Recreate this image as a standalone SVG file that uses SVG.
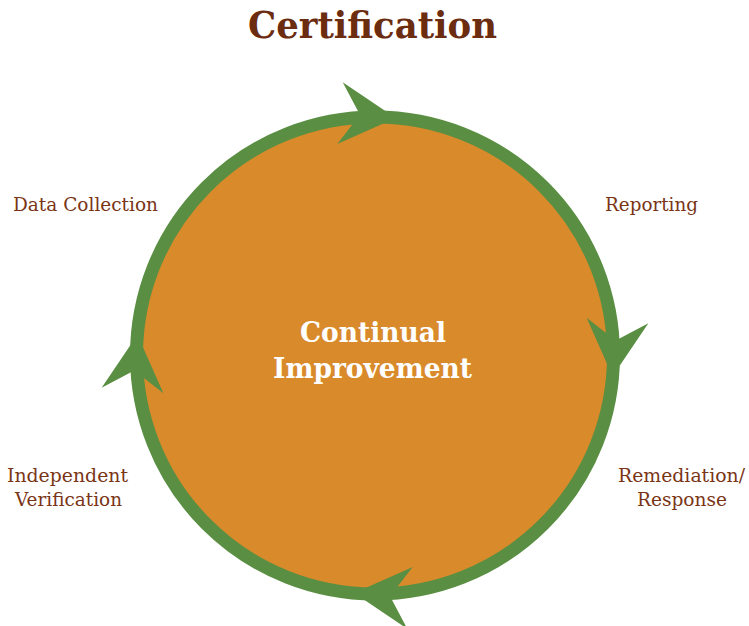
<svg xmlns="http://www.w3.org/2000/svg" width="749" height="626" viewBox="0 0 749 626">
<style>
.lbl{font-family:"DejaVu Serif","Liberation Serif",serif;font-size:19px;fill:#7A3516;text-anchor:middle}
.ttl{font-family:"DejaVu Serif","Liberation Serif",serif;font-size:37px;font-weight:bold;fill:#6B2C0F;text-anchor:middle}
.ctr{font-family:"DejaVu Serif","Liberation Serif",serif;font-size:28px;font-weight:bold;fill:#FFFFFF;text-anchor:middle}
.arr{fill:#5A8F43}
</style>
<defs>
<polygon id="head" points="0,0 -56,-31 -36,0 -56,31"/>
</defs>
<rect width="749" height="626" fill="#FFFFFF"/>
<g id="title"><text class="ttl" x="372.5" y="38" textLength="249" lengthAdjust="spacingAndGlyphs">Certification</text></g>
<g id="cycle">
<circle cx="375" cy="355.5" r="238.5" fill="#D98A2B" stroke="#5A8F43" stroke-width="13"/>
</g>
<g id="connectors" class="arr">
<use href="#head" transform="rotate(5 375 355.5) translate(375,117) rotate(0)"/>
<use href="#head" transform="rotate(5 375 355.5) translate(613.5,355.5) rotate(90)"/>
<use href="#head" transform="rotate(5 375 355.5) translate(375,594) rotate(180)"/>
<use href="#head" transform="rotate(5 375 355.5) translate(136.5,355.5) rotate(270)"/>
</g>
<g id="center"><text class="ctr" x="373" y="342" textLength="146" lengthAdjust="spacingAndGlyphs">Continual</text><text class="ctr" x="372.5" y="378" textLength="199" lengthAdjust="spacingAndGlyphs">Improvement</text></g>
<g id="data-collection"><text class="lbl" x="85.5" y="211" textLength="145" lengthAdjust="spacingAndGlyphs">Data Collection</text></g>
<g id="reporting"><text class="lbl" x="651.5" y="211" textLength="93" lengthAdjust="spacingAndGlyphs">Reporting</text></g>
<g id="remediation"><text class="lbl" x="681.5" y="482" textLength="127" lengthAdjust="spacingAndGlyphs">Remediation/</text><text class="lbl" x="682" y="506" textLength="90" lengthAdjust="spacingAndGlyphs">Response</text></g>
<g id="verification"><text class="lbl" x="67.5" y="482" textLength="121" lengthAdjust="spacingAndGlyphs">Independent</text><text class="lbl" x="68.5" y="506" textLength="107" lengthAdjust="spacingAndGlyphs">Verification</text></g>
</svg>
